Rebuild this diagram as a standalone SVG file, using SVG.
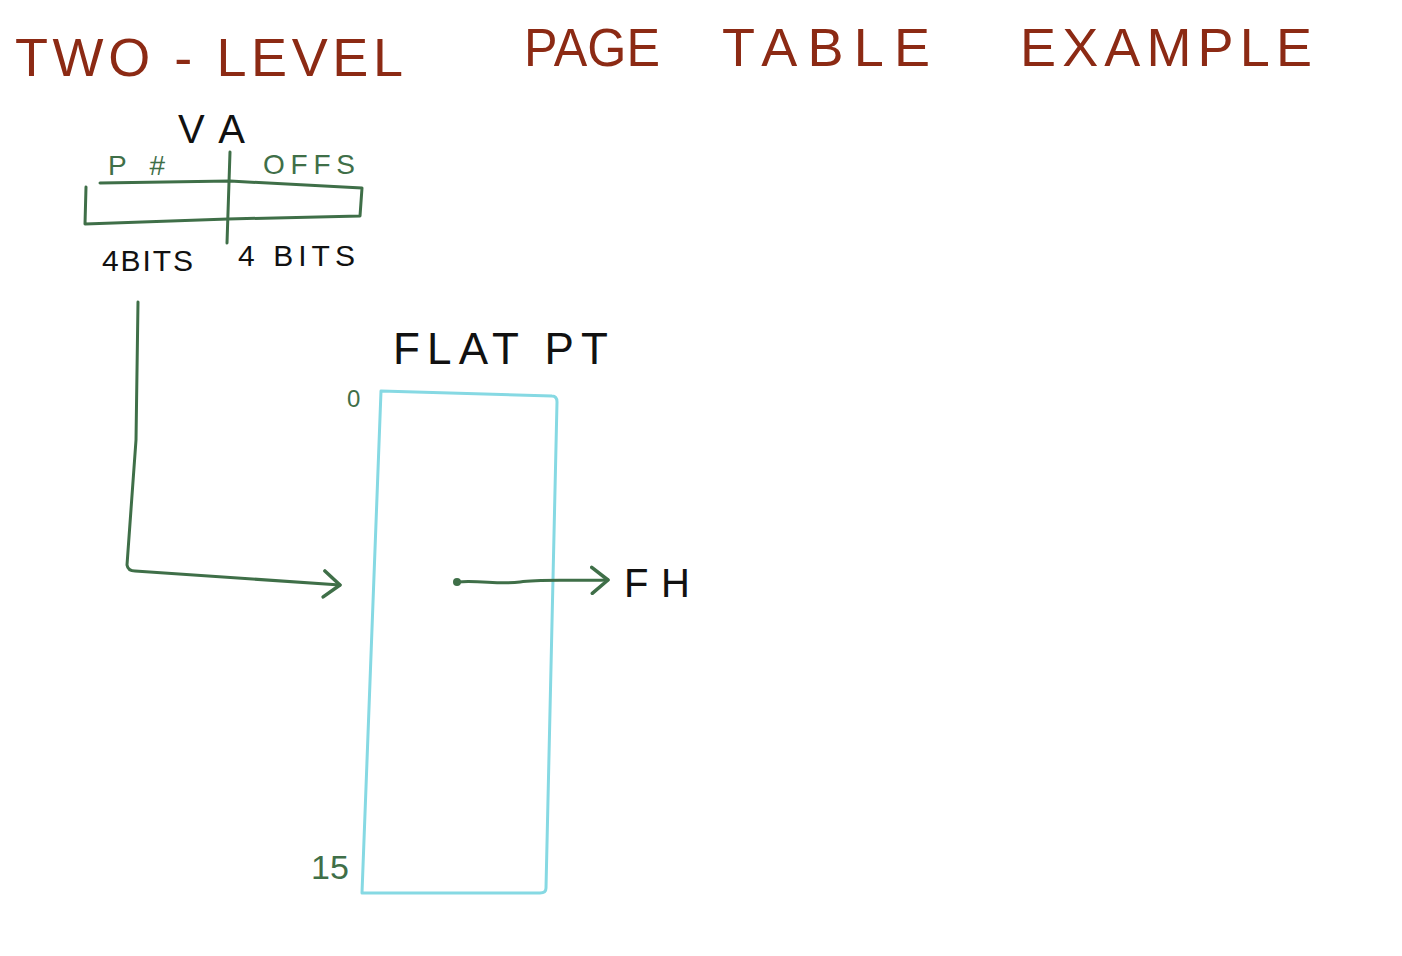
<svg xmlns="http://www.w3.org/2000/svg" width="1402" height="956" viewBox="0 0 1402 956">
<style>
.title{font-family:"Liberation Sans",Arial,sans-serif;font-size:54px;fill:#8c2a14;}
.blk{font-family:"Liberation Sans",Arial,sans-serif;fill:#111;}
.grn{font-family:"Liberation Sans",Arial,sans-serif;fill:#3f6f48;}
.gline{fill:none;stroke:#3f6f48;stroke-width:3;stroke-linecap:round;stroke-linejoin:round;}
.cline{fill:none;stroke:#86d9e3;stroke-width:3;stroke-linejoin:round;}
</style>
<defs>
<marker id="chev" viewBox="0 0 20 30" refX="18" refY="15" markerWidth="20" markerHeight="30" markerUnits="userSpaceOnUse" orient="auto">
<path d="M2 2 L18 15 L2 28" fill="none" stroke="#3f6f48" stroke-width="3.5" stroke-linecap="round" stroke-linejoin="round"/>
</marker>
</defs>
<rect width="1402" height="956" fill="#fff"/>
<g id="title">
<text class="title" x="15" y="76" textLength="388" lengthAdjust="spacing">TWO - LEVEL</text>
<text class="title" x="524" y="66" textLength="136" lengthAdjust="spacingAndGlyphs">PAGE</text>
<text class="title" x="722" y="66" textLength="208" lengthAdjust="spacing">TABLE</text>
<text class="title" x="1020" y="66" textLength="292" lengthAdjust="spacing">EXAMPLE</text>
</g>
<g id="va">
<text class="blk" x="178" y="143" font-size="40" textLength="67" lengthAdjust="spacing">V A</text>
<text class="grn" x="108" y="175" font-size="28" textLength="57" lengthAdjust="spacing">P#</text>
<text class="grn" x="263" y="174" font-size="28" textLength="92" lengthAdjust="spacing">OFFS</text>
<path class="gline" d="M100 183 L230 181 L362 188 L360 216 L228 219 L85 224 L86 187"/>
<path class="gline" d="M230 152 L227 243"/>
<text class="blk" x="102" y="271" font-size="30" textLength="91" lengthAdjust="spacing">4BITS</text>
<text class="blk" x="238" y="266" font-size="30" textLength="117" lengthAdjust="spacing">4 BITS</text>
</g>
<g id="flat-pt">
<text class="blk" x="393" y="364" font-size="44" textLength="215" lengthAdjust="spacing">FLAT PT</text>
<text class="grn" x="347" y="407" font-size="24">0</text>
<text class="grn" x="311" y="879" font-size="34">15</text>
<path class="cline" d="M381 391 L552 396 Q557 396 557 402 L546 888 Q546 893 540 893 L362 893 Z"/>
</g>
<g id="fh">
<text class="blk" x="624" y="597" font-size="40" textLength="66" lengthAdjust="spacing">FH</text>
</g>
<g id="connectors">
<path class="gline" d="M138 302 L136 440 L127 565 Q128 571 135 571 L340 585" marker-end="url(#chev)"/>
<circle cx="457" cy="582" r="4" fill="#3f6f48"/>
<path class="gline" d="M457 582 C480 580 500 585 520 582 S560 581 608 580" marker-end="url(#chev)"/>
</g>
</svg>
